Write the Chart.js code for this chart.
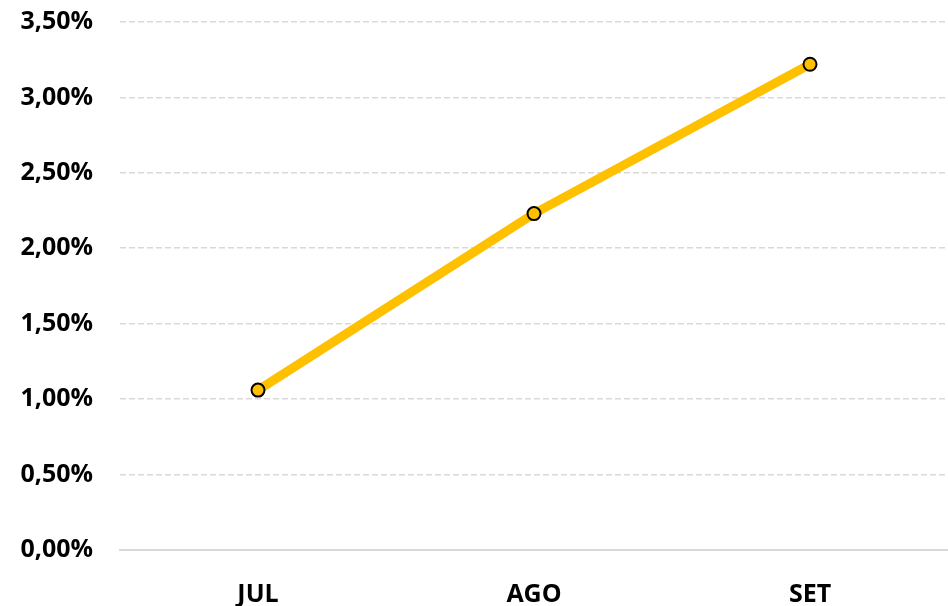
<!DOCTYPE html>
<html>
<head>
<meta charset="utf-8">
<script src="https://cdn.jsdelivr.net/npm/chart.js@4/dist/chart.umd.min.js"></script>
<style>
  html, body { margin:0; padding:0; background:#fff; }
  #wrap { width:948px; height:606px; }
</style>
</head>
<body>
<div id="wrap"><canvas id="lineChart"></canvas></div>
<script>
const months = ["JUL", "AGO", "SET"];
const rates = [1.06, 2.23, 3.22];
const yTicks = [0, 0.5, 1, 1.5, 2, 2.5, 3, 3.5];

const fmtPct = v => v.toFixed(2).replace(".", ",") + "%";

const FONT = { family: "'Open Sans', sans-serif", size: 25, weight: "bold" };

new Chart(document.getElementById("lineChart"), {
  type: "line",
  data: {
    labels: months,
    datasets: [{
      data: rates,
      borderColor: "#FFC000",
      borderWidth: 9,
      pointRadius: 6.5,
      pointBackgroundColor: "#FFC000",
      pointBorderColor: "#000",
      pointBorderWidth: 2,
      tension: 0
    }]
  },
  options: {
    responsive: true,
    maintainAspectRatio: false,
    animation: false,
    layout: { autoPadding: false, padding: { top: 22, right: 0, left: 0, bottom: 0 } },
    plugins: { legend: { display: false }, tooltip: { enabled: false } },
    scales: {
      x: {
        offset: true,
        grid: { display: false },
        border: { display: true, color: "#d9d9d9", width: 2 },
        ticks: { color: "#000", font: FONT, padding: 22 },
        afterFit: s => { s.height = 56; s.paddingLeft = 0; s.paddingRight = 0; }
      },
      y: {
        min: 0,
        max: 3.5,
        afterBuildTicks: s => { s.ticks = yTicks.map(v => ({ value: v })); },
        grid: { color: "#d9d9d9", lineWidth: 1.6, drawTicks: false },
        border: { display: false, dash: [6, 3] },
        ticks: { color: "#000", font: FONT, padding: 27, callback: v => fmtPct(v) },
        afterFit: s => { s.width = 120; s.paddingTop = 10; s.paddingBottom = 10; }
      }
    }
  }
});
</script>
</body>
</html>
